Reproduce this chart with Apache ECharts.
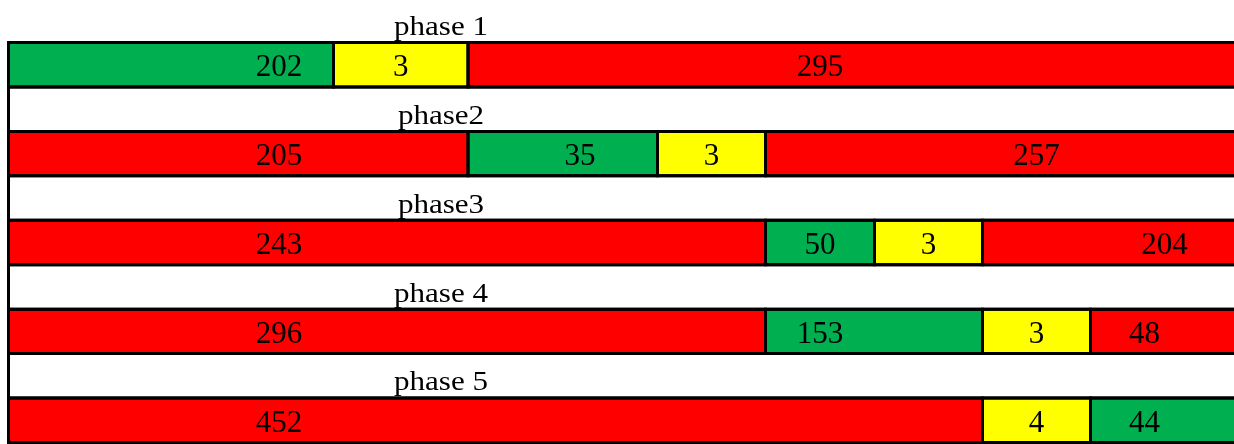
<!DOCTYPE html>
<html>
<head>
<meta charset="utf-8">
<title>Phase status</title>
<script src="https://cdn.jsdelivr.net/npm/echarts@6/dist/echarts.min.js"></script>
<style>
  html, body { margin: 0; padding: 0; background: #ffffff; }
  #chart { width: 1234px; height: 444px; }
</style>
</head>
<body>
<div id="chart"></div>
<script>
// ---- data ----------------------------------------------------------------
const phases = ['phase 1', 'phase2', 'phase3', 'phase 4', 'phase 5'];

// item counts per cell, left to right (each phase totals 500)
const phase1Counts = [202, 3, 295];
const phase2Counts = [205, 35, 3, 257];
const phase3Counts = [243, 50, 3, 204];
const phase4Counts = [296, 153, 3, 48];
const phase5Counts = [452, 4, 44];

// RAG status of each cell
const phase1Status = ['G', 'Y', 'R'];
const phase2Status = ['R', 'G', 'Y', 'R'];
const phase3Status = ['R', 'G', 'Y', 'R'];
const phase4Status = ['R', 'G', 'Y', 'R'];
const phase5Status = ['R', 'Y', 'G'];

// merged sheet range covered by each cell
const phase1Ranges = ['A:B', 'C', 'D:K'];
const phase2Ranges = ['A:C', 'D:E', 'F', 'G:K'];
const phase3Ranges = ['A:F', 'G', 'H', 'I:K'];
const phase4Ranges = ['A:F', 'G:H', 'I', 'J:K'];
const phase5Ranges = ['A:H', 'I', 'J:K'];

// sheet column(s) holding the printed count
const phase1CountCells = ['B', 'C', 'G'];
const phase2CountCells = ['B', 'E', 'F', 'I'];
const phase3CountCells = ['B', 'G', 'H', 'J:K'];
const phase4CountCells = ['B', 'G', 'I', 'J'];
const phase5CountCells = ['B', 'I', 'J'];

// ---- sheet layout --------------------------------------------------------
const SHEET_COLUMNS = 'ABCDEFGHIJK';
const COLUMN_WIDTHS = [216, 109, 134.5, 34.5, 155, 108, 109, 108, 108, 108, 40];
const VISIBLE_WIDTH = 1225.5;
const TITLE_RANGE = 'B:E';
const STATUS_COLORS = { G: '#00B050', Y: '#FFFF00', R: '#FF0000' };
const COUNT_FONT = '31px "Liberation Serif", "Times New Roman", serif';
const TITLE_FONT = '27px "Liberation Serif", "Times New Roman", serif';
const TITLE_STRETCH = 1.15;
const COUNT_DROP = 3.5;
const TITLE_DROP = 7.5;
const BORDER = 3;

const edges = [0];
COLUMN_WIDTHS.forEach(function (w, i) { edges.push(edges[i] + w); });

function rangeExtent(ref) {
  const parts = ref.split(':');
  const i0 = SHEET_COLUMNS.indexOf(parts[0]);
  const i1 = SHEET_COLUMNS.indexOf(parts[1] || parts[0]);
  return [edges[i0], edges[i1 + 1]];
}
function rangeCenter(ref) {
  const e = rangeExtent(ref);
  return (e[0] + e[1]) / 2;
}

const phaseCounts = [phase1Counts, phase2Counts, phase3Counts, phase4Counts, phase5Counts];
const phaseStatus = [phase1Status, phase2Status, phase3Status, phase4Status, phase5Status];
const phaseRanges = [phase1Ranges, phase2Ranges, phase3Ranges, phase4Ranges, phase5Ranges];
const phaseCountCells = [phase1CountCells, phase2CountCells, phase3CountCells, phase4CountCells, phase5CountCells];

// every phase takes a title row followed by a status row; row 0 is phase 1's status row.
// item value: [x0, x1, row, text, textX, fillKey]  (fillKey '' = title row without a box)
const sheetItems = [];
phases.forEach(function (name, p) {
  sheetItems.push([0, edges[edges.length - 1], p * 2 - 1, name, rangeCenter(TITLE_RANGE), p > 0 ? 'W' : '']);
});
phaseCounts.forEach(function (counts, p) {
  counts.forEach(function (count, k) {
    const ext = rangeExtent(phaseRanges[p][k]);
    sheetItems.push([ext[0], ext[1], p * 2, String(count), rangeCenter(phaseCountCells[p][k]), phaseStatus[p][k]]);
  });
});

function fillOf(key) {
  return key === 'W' ? '#ffffff' : STATUS_COLORS[key];
}

function box(api) {
  const a = api.coord([api.value(0), api.value(2)]);
  const b = api.coord([api.value(1), api.value(2) + 1]);
  return { x: a[0], y: a[1], width: b[0] - a[0], height: b[1] - a[1] };
}

// pass 1: cell fills
function renderFill(params, api) {
  const key = sheetItems[params.dataIndex][5];
  if (!key) return { type: 'group', children: [] };
  return { type: 'rect', shape: box(api), style: { fill: fillOf(key) } };
}

// pass 2: cell borders, drawn over every fill so shared edges keep full width
function renderBorder(params, api) {
  const key = sheetItems[params.dataIndex][5];
  if (!key) return { type: 'group', children: [] };
  return { type: 'rect', shape: box(api), style: { fill: 'none', stroke: '#000000', lineWidth: BORDER } };
}

// pass 3: texts (phase titles are set a little wider than the counts)
function renderText(params, api) {
  const item = sheetItems[params.dataIndex];
  const isTitle = item[5] === '' || item[5] === 'W';
  const r = box(api);
  const c = api.coord([api.value(4), api.value(2)]);
  const y = r.y + r.height / 2 + (isTitle ? TITLE_DROP : COUNT_DROP);
  return {
    type: 'text',
    originX: c[0],
    originY: y,
    scaleX: isTitle ? TITLE_STRETCH : 1,
    style: {
      text: item[3],
      x: c[0],
      y: y,
      align: 'center',
      verticalAlign: 'middle',
      font: isTitle ? TITLE_FONT : COUNT_FONT,
      fill: '#000000'
    }
  };
}

const seriesBase = {
  type: 'custom',
  data: sheetItems,
  encode: { x: [0, 1], y: 2 },
  clip: false,
  silent: true
};

const chart = echarts.init(document.getElementById('chart'), null, { renderer: 'canvas' });
chart.setOption({
  animation: false,
  backgroundColor: '#ffffff',
  grid: { left: 8.5, right: 0, top: 42.5, bottom: 1.5 },
  xAxis: { type: 'value', min: 0, max: VISIBLE_WIDTH, show: false },
  yAxis: { type: 'value', min: 0, max: 9, inverse: true, show: false },
  series: [
    Object.assign({ name: 'fills', renderItem: renderFill, z: 1 }, seriesBase),
    Object.assign({ name: 'borders', renderItem: renderBorder, z: 2 }, seriesBase),
    Object.assign({ name: 'texts', renderItem: renderText, z: 3 }, seriesBase)
  ]
});
</script>
</body>
</html>
